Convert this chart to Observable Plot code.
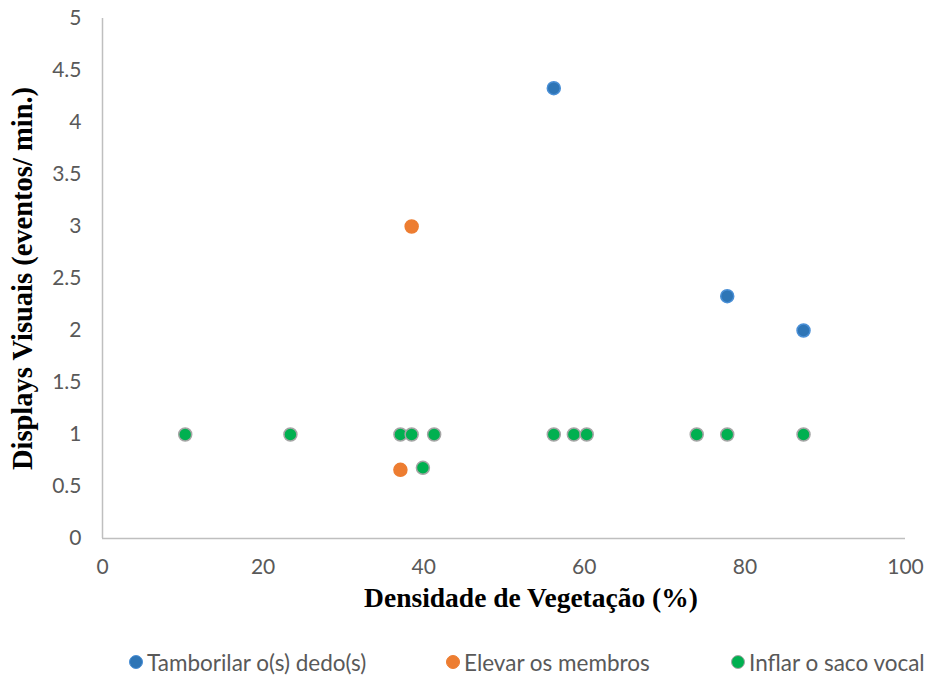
<!DOCTYPE html>
<html>
<head>
<meta charset="utf-8">
<script src="https://cdn.jsdelivr.net/npm/d3@7"></script>
<script src="https://cdn.jsdelivr.net/npm/@observablehq/plot@0.6"></script>
<style>
  body { margin: 0; background: #fff; overflow: hidden; }
  #chart { width: 928px; }
  .legend { height: 74px; font-family: Lato, "Open Sans", sans-serif; font-size: 22.5px; color: #595959; position: relative; }
  .item { position: absolute; top: 0; height: 74px; display: flex; align-items: center; white-space: nowrap; }
  .sw { width: 14px; height: 14px; border-radius: 50%; margin-right: 4px; box-sizing: border-box; flex: none; }
</style>
</head>
<body>
<div id="chart"></div>
<script>
const seriesNames = ["Tamborilar o(s) dedo(s)", "Elevar os membros", "Inflar o saco vocal"];
const tamborilarX = [56.2, 77.8, 87.3];
const tamborilarY = [4.33, 2.33, 2.0];
const elevarX = [38.5, 37.1];
const elevarY = [3.0, 0.66];
const inflarX = [10.3, 23.4, 37.1, 38.5, 41.3, 56.2, 58.7, 60.3, 74.0, 77.8, 87.3, 39.9];
const inflarY = [1, 1, 1, 1, 1, 1, 1, 1, 1, 1, 1, 0.68];
const xTicks = [0, 20, 40, 60, 80, 100];
const yTicks = [0, 0.5, 1, 1.5, 2, 2.5, 3, 3.5, 4, 4.5, 5];
const fills = ["#2E75B6", "#ED7D31", "#00B050"];
const strokes = ["#4A8FD6", "#ED7D31", "#A5A5A5"];

const toRows = (xs, ys) => xs.map((x, i) => ({x, y: ys[i]}));
const series = [toRows(tamborilarX, tamborilarY), toRows(elevarX, elevarY), toRows(inflarX, inflarY)];
const serif = "'Liberation Serif', 'Times New Roman', serif";

const plot = Plot.plot({
  width: 928,
  height: 625,
  marginLeft: 102,
  marginRight: 23,
  marginTop: 18,
  marginBottom: 87,
  style: {fontFamily: "Lato, 'Open Sans', sans-serif", fontSize: "21px", color: "#595959", background: "#fff"},
  x: {domain: [0, 100], label: null},
  y: {domain: [0, 5], label: null},
  marks: [
    Plot.ruleY([0], {stroke: "#BFBFBF", strokeWidth: 1.5}),
    Plot.ruleX([0], {stroke: "#BFBFBF", strokeWidth: 1.5}),
    ...series.map((rows, i) => Plot.dot(rows, {x: "x", y: "y", r: 6.5, fill: fills[i], stroke: strokes[i], strokeWidth: 1.5})),
    Plot.axisX({ticks: xTicks, tickSize: 0, tickPadding: 21, label: null, fontSize: 21, fill: "#595959"}),
    Plot.axisY({ticks: yTicks, tickSize: 0, tickPadding: 21, label: null, tickFormat: d => String(d), fontSize: 21, fill: "#595959"}),
    Plot.text(["Densidade de Vegetação (%)"], {frameAnchor: "bottom", dy: 68, dx: 27, fontFamily: serif, fontWeight: "bold", fontSize: 27.5, fill: "#000", text: d => d}),
    Plot.text(["Displays Visuais (eventos/ min.)"], {frameAnchor: "left", dx: -80, rotate: -90, textAnchor: "middle", fontFamily: serif, fontWeight: "bold", fontSize: 28.5, fill: "#000", text: d => d})
  ]
});
document.getElementById("chart").appendChild(plot);

const legend = document.createElement("div");
legend.className = "legend";
const lefts = [129, 446, 731];
seriesNames.forEach((name, i) => {
  const it = document.createElement("div");
  it.className = "item";
  it.style.left = lefts[i] + "px";
  const sw = document.createElement("span");
  sw.className = "sw";
  sw.style.background = fills[i];
  sw.style.border = "1.5px solid " + strokes[i];
  const t = document.createElement("span");
  t.textContent = name;
  it.appendChild(sw); it.appendChild(t);
  legend.appendChild(it);
});
document.getElementById("chart").appendChild(legend);
</script>
</body>
</html>
